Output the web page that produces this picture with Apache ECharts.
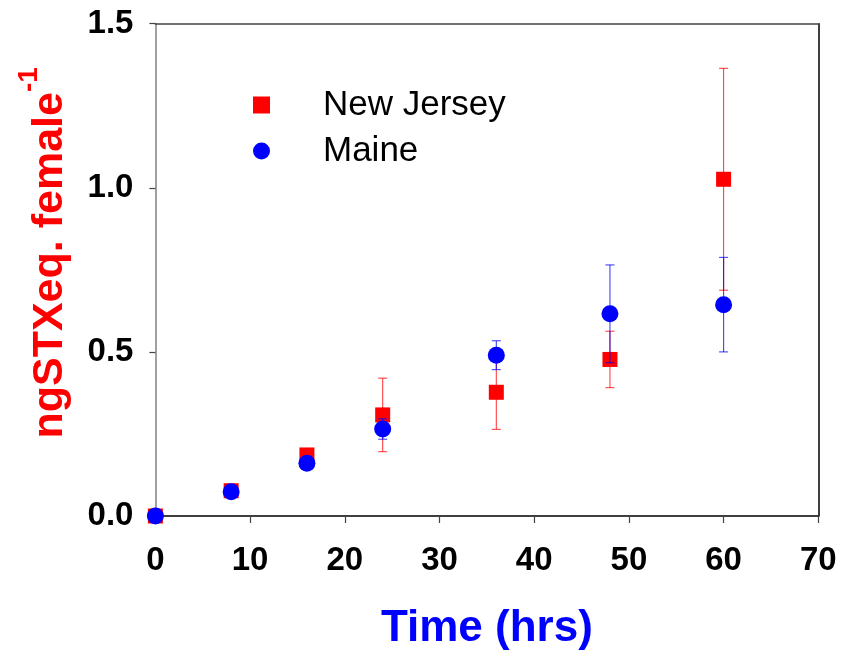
<!DOCTYPE html>
<html>
<head>
<meta charset="utf-8">
<script src="https://cdn.jsdelivr.net/npm/echarts@6/dist/echarts.min.js"></script>
<style>
  html, body { margin: 0; padding: 0; background: #fff; }
  #chart { width: 844px; height: 652px; }
</style>
</head>
<body>
<div id="chart"></div>
<script>
// Sampling times (hours)
const timeHrs = [0, 8, 16, 24, 36, 48, 60];

// New Jersey: mean toxin per female and error half-width
const njMean = [0, 0.077, 0.186, 0.308, 0.377, 0.477, 1.026];
const njErr  = [0, 0.01, 0.01, 0.112, 0.113, 0.086, 0.338];

// Maine: mean toxin per female and error half-width
const meMean = [0, 0.074, 0.161, 0.265, 0.490, 0.616, 0.644];
const meErr  = [0, 0.01, 0.01, 0.031, 0.044, 0.149, 0.144];

// Axis ticks
const xTicks = [0, 10, 20, 30, 40, 50, 60, 70];
const yTicks = [0, 0.5, 1.0, 1.5];

const FONT = 'Arial, "Liberation Sans", Helvetica, sans-serif';

function points(means) {
  return timeHrs.map((t, i) => [t, means[i]]);
}
function errRows(means, errs) {
  return timeHrs.map((t, i) => [t, means[i], errs[i]]);
}

// Vertical error bar with short caps, placed through the axis scales
function errorBar(color) {
  return function (params, api) {
    const x = api.value(0), y = api.value(1), e = api.value(2);
    const hi = api.coord([x, y + e]);
    const lo = api.coord([x, y - e]);
    const cap = 4.5;
    const style = { stroke: color, lineWidth: 1.1, opacity: 0.75 };
    return {
      type: 'group',
      children: [
        { type: 'line', shape: { x1: hi[0], y1: hi[1], x2: lo[0], y2: lo[1] }, style },
        { type: 'line', shape: { x1: hi[0] - cap, y1: hi[1], x2: hi[0] + cap, y2: hi[1] }, style },
        { type: 'line', shape: { x1: lo[0] - cap, y1: lo[1], x2: lo[0] + cap, y2: lo[1] }, style }
      ]
    };
  };
}

const chart = echarts.init(document.getElementById('chart'), null, { renderer: 'canvas' });

chart.setOption({
  backgroundColor: '#ffffff',
  animation: false,
  grid: {
    left: 155.4, right: 25.7, top: 23.7, bottom: 136,
    containLabel: false,
    outerBoundsMode: 'none'
  },
  legend: {
    orient: 'vertical',
    left: 248,
    top: 79,
    itemWidth: 17,
    itemHeight: 17,
    itemGap: 4,
    data: [
      { name: 'New Jersey', icon: 'rect' },
      { name: 'Maine', icon: 'circle' }
    ],
    textStyle: {
      fontFamily: FONT,
      fontSize: 35,
      color: '#000',
      lineHeight: 32,
      padding: [10, 0, 0, 48]
    }
  },
  xAxis: [
    {
      type: 'value',
      min: xTicks[0],
      max: xTicks[xTicks.length - 1],
      interval: xTicks[1] - xTicks[0],
      position: 'bottom',
      name: 'Time (hrs)',
      nameLocation: 'middle',
      nameGap: 91,
      nameTextStyle: { fontFamily: FONT, fontSize: 44, fontWeight: 'bold', color: '#0000ff' },
      axisLine: { show: true, onZero: false, lineStyle: { color: '#000', width: 1.5 } },
      axisTick: { show: true, inside: false, length: 7, lineStyle: { color: '#444', width: 1.2 } },
      axisLabel: { margin: 28, fontFamily: FONT, fontSize: 33, fontWeight: 'bold', color: '#000' },
      splitLine: { show: false }
    },
    {
      type: 'value',
      min: xTicks[0],
      max: xTicks[xTicks.length - 1],
      position: 'top',
      axisLine: { show: true, onZero: false, lineStyle: { color: '#444', width: 1.5 } },
      axisTick: { show: false },
      axisLabel: { show: false },
      splitLine: { show: false }
    }
  ],
  yAxis: [
    {
      type: 'value',
      min: yTicks[0],
      max: yTicks[yTicks.length - 1],
      interval: yTicks[1] - yTicks[0],
      position: 'left',
      name: '{a|ngSTXeq. female}{b|-1}',
      nameLocation: 'middle',
      nameRotate: 90,
      nameGap: 70,
      nameTextStyle: {
        padding: [0, 0, 0, 34],
        rich: {
          a: { fontFamily: FONT, fontSize: 43, fontWeight: 'bold', color: '#ff0000', lineHeight: 70 },
          b: { fontFamily: FONT, fontSize: 28, fontWeight: 'bold', color: '#ff0000', lineHeight: 28, verticalAlign: 'top' }
        }
      },
      axisLine: { show: true, onZero: false, lineStyle: { color: '#808080', width: 1.5 } },
      axisTick: { show: true, inside: false, length: 6, lineStyle: { color: '#444', width: 1.2 } },
      axisLabel: {
        margin: 22,
        fontFamily: FONT, fontSize: 33, fontWeight: 'bold', color: '#000',
        formatter: v => v.toFixed(1)
      },
      splitLine: { show: false }
    },
    {
      type: 'value',
      min: yTicks[0],
      max: yTicks[yTicks.length - 1],
      position: 'right',
      axisLine: { show: true, onZero: false, lineStyle: { color: '#000', width: 1.5 } },
      axisTick: { show: false },
      axisLabel: { show: false },
      splitLine: { show: false }
    }
  ],
  series: [
    {
      name: 'New Jersey err',
      type: 'custom',
      renderItem: errorBar('#ff0000'),
      data: errRows(njMean, njErr),
      encode: { x: 0, y: [1] },
      z: 1,
      silent: true
    },
    {
      name: 'New Jersey',
      type: 'scatter',
      symbol: 'rect',
      symbolSize: 15,
      itemStyle: { color: '#ff0000', opacity: 1 },
      data: points(njMean),
      z: 2
    },
    {
      name: 'Maine err',
      type: 'custom',
      renderItem: errorBar('#0000ff'),
      data: errRows(meMean, meErr),
      encode: { x: 0, y: [1] },
      z: 3,
      silent: true
    },
    {
      name: 'Maine',
      type: 'scatter',
      symbol: 'circle',
      symbolSize: 17,
      itemStyle: { color: '#0000ff', opacity: 1 },
      data: points(meMean),
      z: 4
    }
  ]
});
</script>
</body>
</html>
